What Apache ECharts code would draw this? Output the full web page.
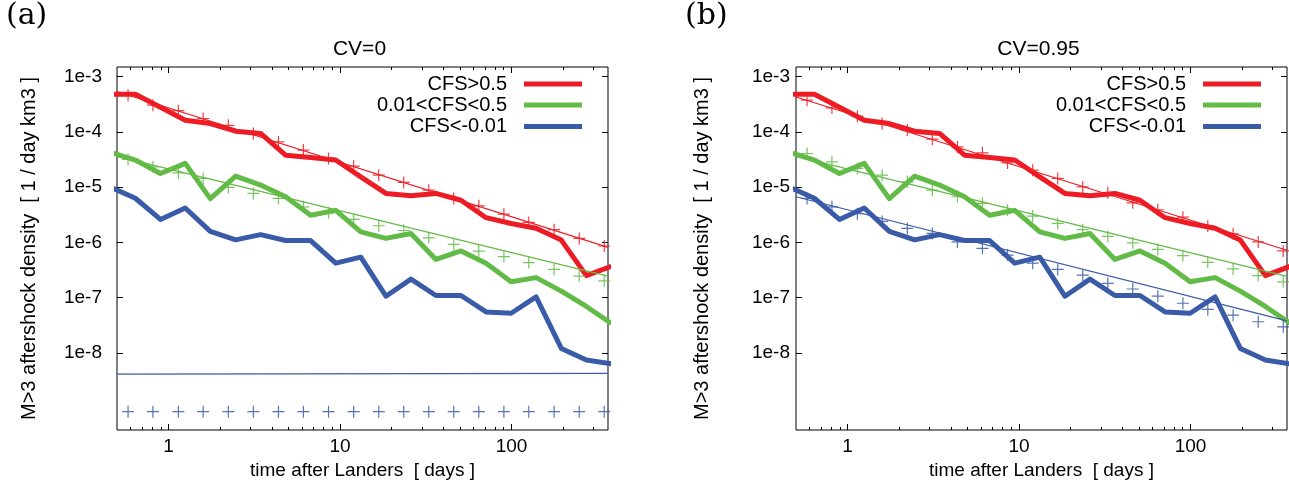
<!DOCTYPE html>
<html><head><meta charset="utf-8">
<script src="https://cdn.jsdelivr.net/npm/echarts@6/dist/echarts.min.js"></script>
<style>html,body{margin:0;padding:0;background:#fff}#c{width:1289px;height:489px}</style>
</head><body><div id="c"></div>
<script>
// ---- data ----
const tObs = [0.457, 0.640, 0.896, 1.25, 1.75, 2.46, 3.44, 4.81, 6.73, 9.43, 13.2, 18.5, 25.9, 36.2, 50.7, 71.0, 99.4, 139, 195, 273, 382];
const tFit = [0.58, 0.81, 1.14, 1.59, 2.23, 3.12, 4.37, 6.11, 8.56, 12.0, 16.8, 23.5, 32.9, 46.0, 64.4, 90.2, 126, 177, 248, 347];
const tLine = [0.5, 365];

const obsRed   = [4.8e-4, 4.8e-4, 2.8e-4, 1.63e-4, 1.42e-4, 1.03e-4, 9.4e-5, 3.8e-5, 3.45e-5, 3.1e-5, 1.54e-5, 7.7e-6, 7.0e-6, 7.7e-6, 5.8e-6, 2.8e-6, 2.2e-6, 1.8e-6, 1.1e-6, 2.5e-7, 3.7e-7];
const obsGreen = [4.3e-5, 3.1e-5, 1.77e-5, 2.7e-5, 6.2e-6, 1.58e-5, 1.09e-5, 6.7e-6, 3.1e-6, 3.8e-6, 1.55e-6, 1.18e-6, 1.45e-6, 4.9e-7, 7.0e-7, 4.2e-7, 1.93e-7, 2.3e-7, 1.31e-7, 6.9e-8, 3.4e-8];
const obsBlue  = [1.0e-5, 6.3e-6, 2.6e-6, 4.2e-6, 1.58e-6, 1.11e-6, 1.38e-6, 1.08e-6, 1.08e-6, 4.2e-7, 5.4e-7, 1.06e-7, 2.16e-7, 1.09e-7, 1.09e-7, 5.5e-8, 5.2e-8, 1.03e-7, 1.2e-8, 7.4e-9, 6.3e-9];

// panel (a) CV=0 fits
const fitRedA   = [4.63e-4, 3.05e-4, 2.43e-4, 1.75e-4, 1.32e-4, 9.4e-5, 6.6e-5, 4.7e-5, 3.3e-5, 2.4e-5, 1.65e-5, 1.22e-5, 8.8e-6, 6.25e-6, 4.6e-6, 3.25e-6, 2.3e-6, 1.7e-6, 1.18e-6, 8.6e-7];
const fitGreenA = [3.17e-5, 2.33e-5, 1.81e-5, 1.44e-5, 9.9e-6, 7.7e-6, 6.25e-6, 4.4e-6, 3.43e-6, 2.6e-6, 2.0e-6, 1.64e-6, 1.21e-6, 9.2e-7, 6.95e-7, 5.5e-7, 4.3e-7, 3.24e-7, 2.45e-7, 2.0e-7];
const fitBlueA  = [8.6e-10, 8.6e-10, 8.6e-10, 8.6e-10, 8.6e-10, 8.6e-10, 8.6e-10, 8.6e-10, 8.6e-10, 8.6e-10, 8.6e-10, 8.6e-10, 8.6e-10, 8.6e-10, 8.6e-10, 8.6e-10, 8.6e-10, 8.6e-10, 8.6e-10, 8.6e-10];
const lineRedA   = [5.4e-4, 8.1e-7];
const lineGreenA = [3.6e-5, 2.45e-7];
const lineBlueA  = [4.1e-9, 4.25e-9];

// panel (b) CV=0.95 fits
const fitRedB   = [3.76e-4, 2.72e-4, 1.93e-4, 1.42e-4, 1.08e-4, 7.4e-5, 5.36e-5, 4.18e-5, 2.75e-5, 2.03e-5, 1.44e-5, 1.01e-5, 7.9e-6, 5.2e-6, 3.9e-6, 2.86e-6, 1.97e-6, 1.43e-6, 1.02e-6, 7.0e-7];
const fitGreenB = [4.07e-5, 2.87e-5, 2.18e-5, 1.65e-5, 1.25e-5, 8.8e-6, 6.7e-6, 5.1e-6, 3.84e-6, 3.0e-6, 2.2e-6, 1.7e-6, 1.28e-6, 9.8e-7, 7.45e-7, 5.75e-7, 4.35e-7, 3.3e-7, 2.5e-7, 1.93e-7];
const fitBlueB  = [6.25e-6, 4.4e-6, 3.3e-6, 2.4e-6, 1.79e-6, 1.45e-6, 1.02e-6, 7.8e-7, 5.9e-7, 4.2e-7, 3.24e-7, 2.55e-7, 1.81e-7, 1.43e-7, 1.06e-7, 7.9e-8, 6.1e-8, 4.8e-8, 3.65e-8, 2.96e-8];
const lineRedB   = [4.3e-4, 7.2e-7];
const lineGreenB = [3.6e-5, 2.42e-7];
const lineBlueB  = [6.7e-6, 3.8e-8];

const xMajor = [1, 10, 100];
const xMinor = [0.6, 0.7, 0.8, 0.9, 2, 3, 4, 5, 6, 7, 8, 9, 20, 30, 40, 50, 60, 70, 80, 90, 200, 300];
const yMajor = [1e-8, 1e-7, 1e-6, 1e-5, 1e-4, 1e-3];
const names = ['CFS>0.5', '0.01<CFS<0.5', 'CFS<-0.01'];
const titles = ['CV=0', 'CV=0.95'];
const tags = ['(a)', '(b)'];
const xName = 'time after Landers  [ days ]';
const yName = 'M>3 aftershock density  [ 1 / day km3 ]';

// ---- styling / layout ----
const FONT = 'Liberation Sans';
const colors = ['#ed1c24', '#62bb46', '#3a5ba7'];
const gridPos = [{left: 117, top: 67, width: 491, height: 363}, {left: 796, top: 67, width: 491, height: 363}];
const yLabelMargin = [15, 6];
const yNameGap = [78, 84];
const legendRight = [707, 28];
const legendTops = [74, 95, 116.5];

const zip = (xs, ys) => xs.map((x, i) => [x, ys[i]]);
const panels = [
  {obs: [obsRed, obsGreen, obsBlue], fit: [fitRedA, fitGreenA, fitBlueA], line: [lineRedA, lineGreenA, lineBlueA]},
  {obs: [obsRed, obsGreen, obsBlue], fit: [fitRedB, fitGreenB, fitBlueB], line: [lineRedB, lineGreenB, lineBlueB]}
];

const txt = (size) => ({color: '#000', fontFamily: FONT, fontSize: size});
const tick = (vals, len) => ({show: true, inside: true, length: len, customValues: vals, lineStyle: {color: '#000', width: 1}});

const grid = [], xAxis = [], yAxis = [], series = [], legend = [], title = [];
gridPos.forEach((g, p) => {
  grid.push({...g, show: true, borderColor: '#000', borderWidth: 1, backgroundColor: 'transparent'});
  const xb = {type: 'log', logBase: 10, min: 0.5, max: 365, gridIndex: p, splitLine: {show: false}, axisLine: {show: false}};
  xAxis.push({...xb, position: 'bottom', axisTick: tick(xMajor, 6),
    axisLabel: {customValues: xMajor, formatter: v => String(Math.round(v)), margin: 7, ...txt(19)},
    name: xName, nameLocation: 'middle', nameGap: 29, nameTextStyle: txt(19)});
  xAxis.push({...xb, position: 'bottom', axisTick: tick(xMinor, 3), axisLabel: {show: false}});
  xAxis.push({...xb, position: 'top', axisTick: tick(xMajor, 6), axisLabel: {show: false}});
  xAxis.push({...xb, position: 'top', axisTick: tick(xMinor, 3), axisLabel: {show: false}});
  const yb = {type: 'log', logBase: 10, min: 4e-10, max: 1.5e-3, gridIndex: p, splitLine: {show: false}, axisLine: {show: false}};
  yAxis.push({...yb, position: 'left', axisTick: tick(yMajor, 6),
    axisLabel: {customValues: yMajor, formatter: v => '1e' + Math.round(Math.log10(v)), margin: yLabelMargin[p], ...txt(19)},
    name: yName, nameLocation: 'middle', nameRotate: 90, nameGap: yNameGap[p], nameTextStyle: txt(20)});
  yAxis.push({...yb, position: 'right', axisTick: tick(yMajor, 6), axisLabel: {show: false}});

  const xi = 4 * p, yi = 2 * p;
  const P = panels[p];
  for (let s = 0; s < 3; s++) {
    series.push({type: 'line', name: names[s], xAxisIndex: xi, yAxisIndex: yi, data: zip(tObs, P.obs[s]),
      showSymbol: false, symbol: 'none', color: colors[s], lineStyle: {width: 5, color: colors[s], join: 'round'}, z: 2, silent: true});
  }
  for (let s = 0; s < 3; s++) {
    series.push({type: 'line', name: 'fit ' + names[s], xAxisIndex: xi, yAxisIndex: yi, data: zip(tLine, P.line[s]),
      showSymbol: false, symbol: 'none', color: colors[s], lineStyle: {width: 1.2, color: colors[s]}, z: 3, silent: true});
    series.push({type: 'scatter', name: 'model ' + names[s], xAxisIndex: xi, yAxisIndex: yi, data: zip(tFit, P.fit[s]),
      symbol: 'path://M4.5,0H5.5V4.5H10V5.5H5.5V10H4.5V5.5H0V4.5H4.5Z', symbolSize: 12,
      itemStyle: {color: colors[s], opacity: 0.85}, z: 4, silent: true});
  }
  for (let s = 0; s < 3; s++) {
    legend.push({data: [{name: names[s], icon: 'rect'}], right: legendRight[p], top: legendTops[s], orient: 'vertical',
      align: 'right', itemWidth: 58, itemHeight: 5, padding: 0, selectedMode: false,
      textStyle: {...txt(20), padding: [0, 12, 0, 0]}});
  }
  title.push({text: titles[p], left: g.left + g.width / 2 - 3, top: 39, textAlign: 'center', padding: 0,
    textStyle: {...txt(21), fontWeight: 'normal'}});
  title.push({text: tags[p], left: p === 0 ? 6 : 685, top: 1, padding: 0,
    textStyle: {color: '#000', fontFamily: 'DejaVu Serif', fontSize: 30, fontWeight: 'normal'}});
});

const chart = echarts.init(document.getElementById('c'), null, {renderer: 'canvas'});
chart.setOption({animation: false, backgroundColor: '#fff', title, grid, xAxis, yAxis, legend, series});
</script></body></html>
